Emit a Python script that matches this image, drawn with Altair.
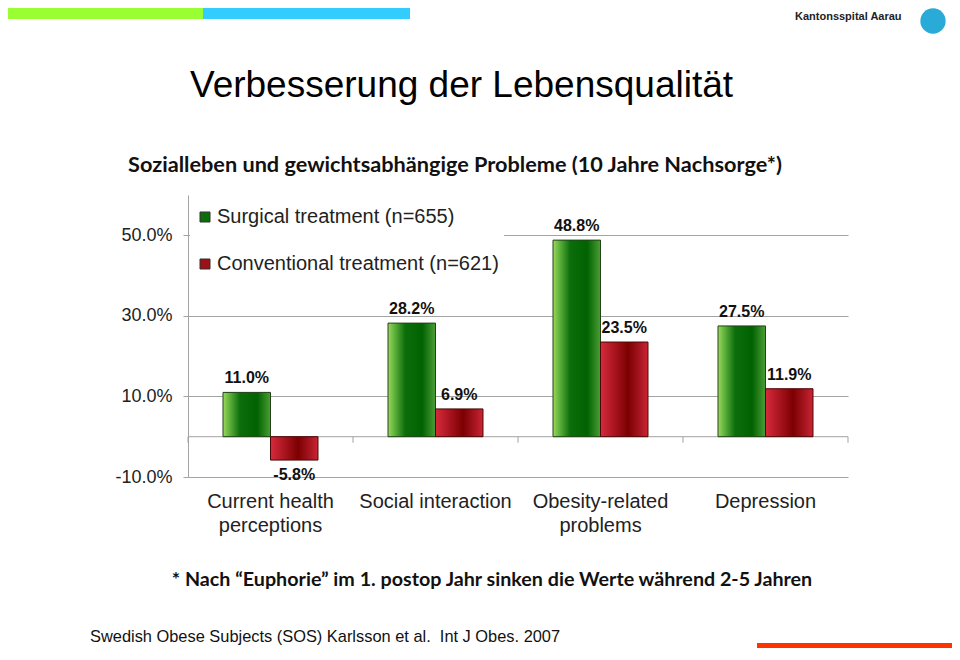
import altair as alt
import pandas as pd

# ---------------- data ----------------
categories = ["Current health\nperceptions", "Social interaction", "Obesity-related\nproblems", "Depression"]
series = ["Surgical treatment (n=655)", "Conventional treatment (n=621)"]
surgical = [11.0, 28.2, 48.8, 27.5]
conventional = [-5.8, 6.9, 23.5, 11.9]
y_ticks = [-10, 10, 30, 50]

title_text = "Verbesserung der Lebensqualität"
subtitle_text = "Sozialleben und gewichtsabhängige Probleme (10 Jahre Nachsorge*)"
footnote_text = "* Nach \u201cEuphorie\u201d im 1. postop Jahr sinken die Werte während 2-5 Jahren"
source_text = "Swedish Obese Subjects (SOS) Karlsson et al.\u00a0 Int J Obes. 2007"
logo_text = "Kantonsspital Aarau"

rows = []
for c, v in zip(categories, surgical):
    rows.append({"category": c, "series": series[0], "value": v})
for c, v in zip(categories, conventional):
    rows.append({"category": c, "series": series[1], "value": v})
df = pd.DataFrame(rows)
df["label"] = df["value"].map(lambda v: f"{v:.1f}%")
cat_df = pd.DataFrame({"category": categories})
one = pd.DataFrame({"k": [0]})

# ---------------- styles ----------------
GRID = "#a3a3a3"
FONT = "Liberation Sans"

green_grad = alt.LinearGradient(
    gradient="linear", x1=0, x2=1, y1=0, y2=0,
    stops=[
        alt.GradientStop(offset=0, color="#9fd85c"),
        alt.GradientStop(offset=0.1, color="#6dbd44"),
        alt.GradientStop(offset=0.36, color="#0b6e0b"),
        alt.GradientStop(offset=0.72, color="#006200"),
        alt.GradientStop(offset=1, color="#4c9e36"),
    ],
)
red_grad = alt.LinearGradient(
    gradient="linear", x1=0, x2=1, y1=0, y2=0,
    stops=[
        alt.GradientStop(offset=0, color="#d62b3b"),
        alt.GradientStop(offset=0.3, color="#a8141f"),
        alt.GradientStop(offset=0.58, color="#7c0000"),
        alt.GradientStop(offset=0.82, color="#a51520"),
        alt.GradientStop(offset=1, color="#cc2432"),
    ],
)

x_enc = alt.X("category:N", sort=categories,
              scale=alt.Scale(domain=categories, paddingInner=0, paddingOuter=0),
              axis=None)
xo_enc = alt.XOffset("series:N", sort=series,
                     scale=alt.Scale(domain=series, paddingInner=0, paddingOuter=0.737))
y_enc = alt.Y("value:Q",
              scale=alt.Scale(domain=[-10, 60], nice=False, zero=False),
              axis=alt.Axis(values=y_ticks, title=None,
                            labelExpr="(datum.value < 0 ? '-' : '') + format(abs(datum.value), '.1f') + '%'",
                            grid=True, gridColor=GRID, gridWidth=1,
                            domainColor=GRID, tickColor=GRID, tickSize=5,
                            labelPadding=11, labelFontSize=18, labelFont=FONT,
                            labelColor="#222222"))

base_bars = alt.Chart(df).mark_bar().encode(
    x=x_enc, xOffset=xo_enc, y=y_enc, y2=alt.datum(0),
    color=alt.Color("series:N", sort=series,
                    scale=alt.Scale(domain=series, range=["#0b6e0b", "#9c1019"]),
                    legend=alt.Legend(title=None, orient="none", legendX=2, legendY=7,
                                      padding=5, fillColor="white",
                                      symbolType="square", symbolSize=100,
                                      symbolStrokeColor="#333333", symbolStrokeWidth=1,
                                      labelFontSize=20, labelFont=FONT, labelColor="#222222",
                                      labelLimit=0,
                                      rowPadding=27, labelOffset=2, direction="vertical")),
)

green_bars = alt.Chart(df).transform_filter(
    alt.datum.series == series[0]
).mark_bar(fill=green_grad, stroke="#23421a", strokeWidth=1).encode(
    x=x_enc, xOffset=xo_enc, y=y_enc, y2=alt.datum(0))

red_bars = alt.Chart(df).transform_filter(
    alt.datum.series == series[1]
).mark_bar(fill=red_grad, stroke="#4a0808", strokeWidth=1).encode(
    x=x_enc, xOffset=xo_enc, y=y_enc, y2=alt.datum(0))

pos_labels = alt.Chart(df).transform_filter("datum.value >= 0").mark_text(
    fontWeight="bold", fontSize=16, font=FONT, dy=-14, baseline="middle", color="#111111"
).encode(x=x_enc, xOffset=xo_enc, y=y_enc, text="label:N")

neg_labels = alt.Chart(df).transform_filter("datum.value < 0").mark_text(
    fontWeight="bold", fontSize=16, font=FONT, dy=15, baseline="middle", color="#111111"
).encode(x=x_enc, xOffset=xo_enc, y=y_enc, text="label:N")

zero_line = alt.Chart(one).mark_rule(color=GRID, strokeWidth=1).encode(y=alt.datum(0))

tick_marks = alt.Chart(cat_df).mark_rule(color=GRID, strokeWidth=1).encode(
    x=alt.X("category:N", sort=categories, bandPosition=0), y=alt.datum(0), y2=alt.datum(-1.5))
last_tick = alt.Chart(cat_df).transform_filter(
    alt.datum.category == categories[-1]
).mark_rule(color=GRID, strokeWidth=1).encode(
    x=alt.X("category:N", sort=categories, bandPosition=1), y=alt.datum(0), y2=alt.datum(-1.5))

cat_labels = alt.Chart(cat_df).mark_text(
    lineBreak="\n", fontSize=20, font=FONT, baseline="alphabetic", lineHeight=24,
    color="#222222"
).encode(x=alt.X("category:N", sort=categories), y=alt.value(313), text="category:N")


def free_text(txt, x, y, **kw):
    return alt.Chart(pd.DataFrame({"t": [txt]})).mark_text(**kw).encode(
        x=alt.value(x), y=alt.value(y), text="t:N")


title = free_text(title_text, 2, -98, align="left", baseline="alphabetic",
                  fontSize=37, font=FONT, color="#000000")
subtitle = free_text(subtitle_text, 267, -23, align="center", baseline="alphabetic",
                     fontSize=21.7, font="Lato", fontWeight="bold", color="#111111")
footnote = free_text(footnote_text, 304, 391, align="center", baseline="alphabetic",
                     fontSize=19.7, font="Lato", fontWeight="bold", color="#111111")
source = free_text(source_text, -98, 447, align="left", baseline="alphabetic",
                   fontSize=16.4, font=FONT, color="#111111")
logo = free_text(logo_text, 607, -175, align="left", baseline="alphabetic",
                 fontSize=11, font=FONT, fontWeight="bold", color="#222222")

logo_circle = alt.Chart(one).mark_circle(size=640, color="#2aaad6", opacity=1).encode(
    x=alt.value(745), y=alt.value(-174))

bar_lime = alt.Chart(one).mark_rect(color="#99ff33").encode(
    x=alt.value(-180), x2=alt.value(15), y=alt.value(-187), y2=alt.value(-176))
bar_blue = alt.Chart(one).mark_rect(color="#33ccff").encode(
    x=alt.value(15), x2=alt.value(222), y=alt.value(-187), y2=alt.value(-176))
bar_orange = alt.Chart(one).mark_rect(color="#ff3300").encode(
    x=alt.value(569), x2=alt.value(764), y=alt.value(448), y2=alt.value(470))

chart = alt.layer(
    zero_line, base_bars, green_bars, red_bars, pos_labels, neg_labels,
    tick_marks, last_tick, cat_labels,
    title, subtitle, footnote, source, logo, logo_circle,
    bar_lime, bar_blue, bar_orange,
).properties(
    width=660, height=282,
    padding={"left": 180, "top": 187, "right": 104, "bottom": 171},
    autosize=alt.AutoSizeParams(type="none"),
    background="white",
).configure_view(stroke=None)

chart.save("out.html", embed_options={"renderer": "svg", "actions": False})
